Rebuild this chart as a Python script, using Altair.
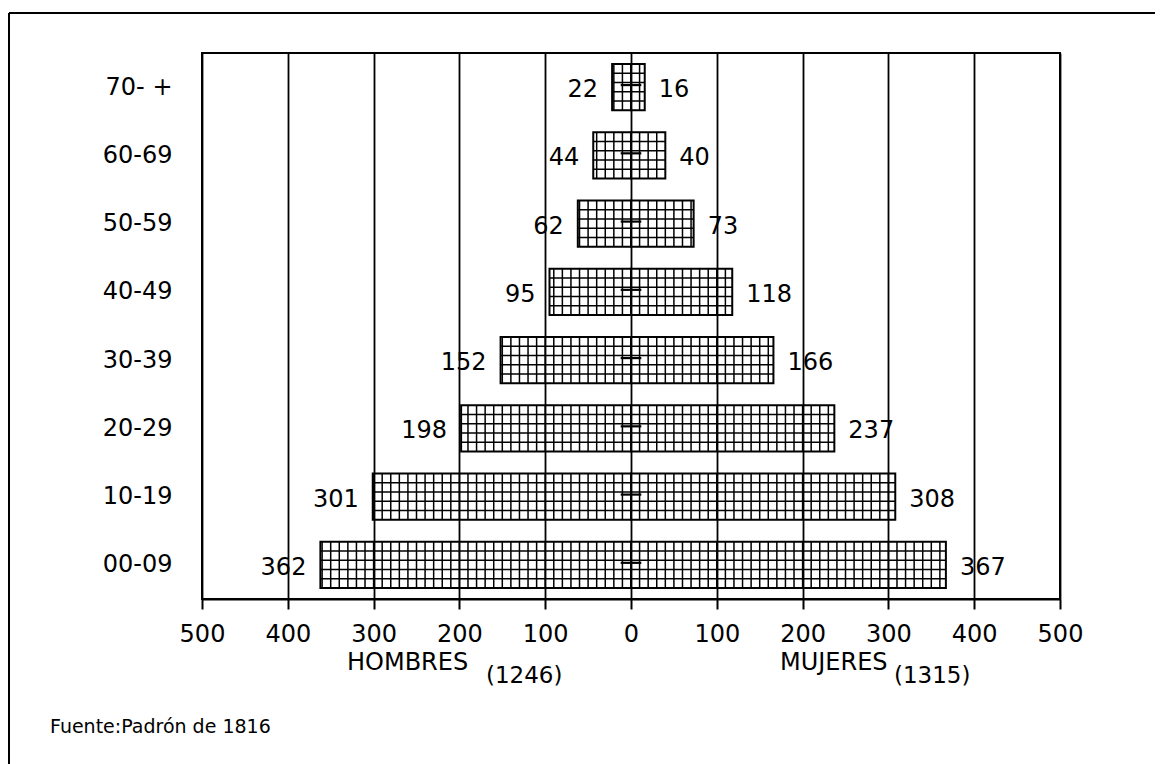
import altair as alt
import pandas as pd

# ---- data ----
ages = ["00-09", "10-19", "20-29", "30-39", "40-49", "50-59", "60-69", "70- +"]
hombres = [362, 301, 198, 152, 95, 62, 44, 22]
mujeres = [367, 308, 237, 166, 118, 73, 40, 16]
x_ticks = [-500, -400, -300, -200, -100, 0, 100, 200, 300, 400, 500]

HALF = 0.337      # half bar height (in row units)
HATCH_ROWS = 5    # rows of the crosshatch inside each bar
HATCH_STEP = 10   # column width of the crosshatch (in persons)

FONT = "DejaVu Sans"

# ---- tables built from the arrays ----
bar_rows, vline_rows, hline_rows, lab_rows, dash_rows = [], [], [], [], []
for i, (age, m, w) in enumerate(zip(ages, hombres, mujeres)):
    bar_rows.append({"i": i, "x": -m, "x2": 0, "y": i - HALF, "y2": i + HALF})
    bar_rows.append({"i": i, "x": 0, "x2": w, "y": i - HALF, "y2": i + HALF})
    k = -(m // HATCH_STEP) * HATCH_STEP
    while k < w:
        if -m < k < w and k != 0:
            vline_rows.append({"x": k, "y": i - HALF, "y2": i + HALF})
        k += HATCH_STEP
    for j in range(1, HATCH_ROWS):
        hline_rows.append({"x": -m, "x2": w, "y": i - HALF + j * 2 * HALF / HATCH_ROWS})
    lab_rows.append({"i": i, "m": -m, "w": w, "tm": str(m), "tw": str(w)})
    dash_rows.append({"x": -12, "x2": 12, "y": i + 0.03})

bars_df = pd.DataFrame(bar_rows)
vl_df = pd.DataFrame(vline_rows)
hl_df = pd.DataFrame(hline_rows)
lab_df = pd.DataFrame(lab_rows)
dash_df = pd.DataFrame(dash_rows)

label_expr = " : ".join(
    [f"datum.value == {i} ? '{a}'" for i, a in enumerate(ages)]
) + " : ''"

xscale = alt.Scale(domain=[-500, 500], nice=False, zero=False)
yscale = alt.Scale(domain=[-0.5, 7.5], nice=False, zero=False)

x_axis = alt.Axis(
    values=x_ticks, labelExpr="abs(datum.value)", title=None,
    grid=True, gridColor="black", gridWidth=1.8, gridOpacity=1,
    domainColor="black", domainWidth=2, tickColor="black", tickWidth=2,
    tickSize=10, labelFont=FONT, labelFontSize=24, labelColor="black",
    labelPadding=13, labelFlush=False, labelOverlap=False,
)
y_axis = alt.Axis(
    values=list(range(len(ages))), labelExpr=label_expr, title=None,
    grid=False, ticks=False, domain=False, labelFont=FONT, labelFontSize=24,
    labelColor="black", labelPadding=30, labelFlush=False, labelOverlap=False,
)

bars = alt.Chart(bars_df).mark_rect(
    fillOpacity=0, stroke="black", strokeWidth=2
).encode(
    x=alt.X("x:Q", scale=xscale, axis=x_axis),
    x2="x2:Q",
    y=alt.Y("y:Q", scale=yscale, axis=y_axis),
    y2="y2:Q",
)

vlines = alt.Chart(vl_df).mark_rule(color="black", strokeWidth=1.5).encode(
    x=alt.X("x:Q", scale=xscale), y=alt.Y("y:Q", scale=yscale), y2="y2:Q"
)
hlines = alt.Chart(hl_df).mark_rule(color="black", strokeWidth=1.5).encode(
    x=alt.X("x:Q", scale=xscale), x2="x2:Q", y=alt.Y("y:Q", scale=yscale)
)
dash = alt.Chart(dash_df).mark_rule(color="black", strokeWidth=2.2).encode(
    x=alt.X("x:Q", scale=xscale), x2="x2:Q", y=alt.Y("y:Q", scale=yscale)
)

lab_m = alt.Chart(lab_df).mark_text(
    font=FONT, fontSize=24, align="right", baseline="middle", dx=-14, dy=3,
    color="black"
).encode(x=alt.X("m:Q", scale=xscale), y=alt.Y("i:Q", scale=yscale), text="tm:N")
lab_w = alt.Chart(lab_df).mark_text(
    font=FONT, fontSize=24, align="left", baseline="middle", dx=14, dy=3,
    color="black"
).encode(x=alt.X("w:Q", scale=xscale), y=alt.Y("i:Q", scale=yscale), text="tw:N")

# ---- annotation texts (positions in pixels relative to plot area) ----
def txt(s, x, y, size, align="left"):
    return alt.Chart(pd.DataFrame({"t": [s]})).mark_text(
        font=FONT, fontSize=size, align=align, baseline="middle", color="black"
    ).encode(x=alt.value(x), y=alt.value(y), text="t:N")

titles = [
    txt("HOMBRES", 145, 610, 24),
    txt("(1246)", 284, 623, 23),
    txt("MUJERES", 578, 610, 24),
    txt("(1315)", 692, 623, 23),
    txt("Fuente:Padrón de 1816", -152, 674, 19),
]

# ---- scan frame lines ----
frame_left = alt.Chart(pd.DataFrame({"a": [0]})).mark_rule(
    color="black", strokeWidth=2
).encode(x=alt.value(-193), y=alt.value(-40), y2=alt.value(715))
frame_top = alt.Chart(pd.DataFrame({"a": [0]})).mark_rule(
    color="black", strokeWidth=2
).encode(x=alt.value(-193), x2=alt.value(1000), y=alt.value(-40))

chart = alt.layer(
    bars, vlines, hlines, dash, lab_m, lab_w, *titles, frame_left, frame_top
).properties(
    width=858, height=546,
    autosize=alt.AutoSizeParams(type="none"),
    padding={"left": 194, "top": 45, "right": 95, "bottom": 170},
    background="white",
).configure_view(
    stroke="black", strokeWidth=2
)

chart.save("out.html", embed_options={"renderer": "svg", "actions": False})
